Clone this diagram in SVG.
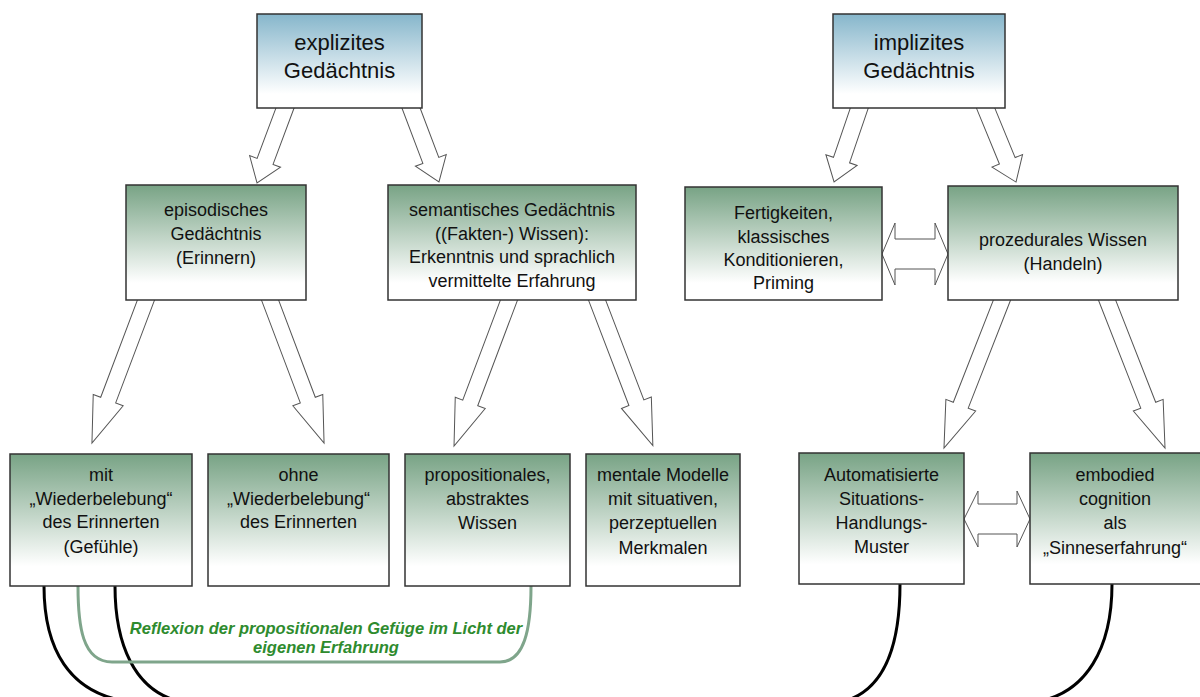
<svg xmlns="http://www.w3.org/2000/svg" width="1200" height="697" viewBox="0 0 1200 697">
  <defs>
    <linearGradient id="gBlue" x1="0" y1="0" x2="0" y2="1">
      <stop offset="0" stop-color="#86b6cb"/>
      <stop offset="0.85" stop-color="#ffffff"/>
      <stop offset="1" stop-color="#ffffff"/>
    </linearGradient>
    <linearGradient id="gGreen" x1="0" y1="0" x2="0" y2="1">
      <stop offset="0" stop-color="#78a385"/>
      <stop offset="0.85" stop-color="#ffffff"/>
      <stop offset="1" stop-color="#ffffff"/>
    </linearGradient>
    <style>
      .box { stroke: #333333; stroke-width: 1.5; }
      .top { fill: url(#gBlue); }
      .grn { fill: url(#gGreen); }
      .lbl { font-family: "Liberation Sans", Arial, sans-serif; font-size: 18px; fill: #111111; text-anchor: middle; }
      .big { font-size: 22px; }
      .blk { fill: #ffffff; stroke: #555555; stroke-width: 1; stroke-linejoin: miter; }
      .link { fill: none; stroke: #000000; stroke-width: 3; }
      .refl { fill: none; stroke: #7fa58b; stroke-width: 3; }
      .note { font-family: "Liberation Sans", Arial, sans-serif; font-size: 16.5px; font-style: italic; font-weight: bold; fill: #2e8b2e; text-anchor: middle; }
    </style>
  </defs>

  <rect width="1200" height="697" fill="#ffffff"/>

  <!-- connectors: block arrows, double arrows and curved links -->
  <g id="connectors">
    <!-- short arrows from the top boxes -->
    <polygon class="blk" transform="translate(285,108) rotate(110.47)" points="-8,-8.5 57,-8.5 57,-16.5 80,0 57,16.5 57,8.5 -8,8.5"/>
    <polygon class="blk" transform="translate(411,108) rotate(69.27)" points="-8,-8.5 56,-8.5 56,-16.5 79,0 56,16.5 56,8.5 -8,8.5"/>
    <polygon class="blk" transform="translate(859,109) rotate(108.9)" points="-8,-8.5 54,-8.5 54,-16.5 77,0 54,16.5 54,8.5 -8,8.5"/>
    <polygon class="blk" transform="translate(986,109) rotate(67.66)" points="-8,-8.5 56,-8.5 56,-16.5 79,0 56,16.5 56,8.5 -8,8.5"/>
    <!-- long arrows from the middle row -->
    <polygon class="blk" transform="translate(146,300) rotate(110.69)" points="-8,-8 107,-8 107,-16 153,0 107,16 107,8 -8,8"/>
    <polygon class="blk" transform="translate(270,300) rotate(69.31)" points="-8,-8 107,-8 107,-16 153,0 107,16 107,8 -8,8"/>
    <polygon class="blk" transform="translate(509,300) rotate(110.64)" points="-8,-8 110,-8 110,-16 156,0 110,16 110,8 -8,8"/>
    <polygon class="blk" transform="translate(597,300) rotate(69.02)" points="-8,-8 110,-8 110,-16 156,0 110,16 110,8 -8,8"/>
    <polygon class="blk" transform="translate(1002,300) rotate(111.4)" points="-8,-8 113,-8 113,-16 159,0 113,16 113,8 -8,8"/>
    <polygon class="blk" transform="translate(1107,300) rotate(68.6)" points="-8,-8 113,-8 113,-16 159,0 113,16 113,8 -8,8"/>
    <!-- double arrows -->
    <polygon class="blk" points="882,254 895,223 895,239 935,239 935,223 948,254 935,285 935,269 895,269 895,285"/>
    <polygon class="blk" points="964,519 978,491 978,504 1017,504 1017,491 1030,519 1017,547 1017,534 978,534 978,547"/>
    <!-- curved links along the bottom edge -->
    <path class="link" d="M 44 586 C 44 650 70 692 125 701 L 1040 701 C 1085 692 1112 650 1112 584"/>
    <path class="link" d="M 115 586 C 115 645 135 690 178 701 L 845 701 C 882 690 900 650 900 584"/>
    <!-- reflection loop -->
    <path class="refl" d="M 78 586 C 78 625 82 662 112 662 L 500 662 C 524 662 531 630 531 586"/>
  </g>

  <g id="n-explizit">
    <rect class="box top" x="257" y="14" width="165" height="94"/>
    <text class="lbl big" x="339.5" y="50">explizites</text>
    <text class="lbl big" x="339.5" y="78">Gedächtnis</text>
  </g>

  <g id="n-implizit">
    <rect class="box top" x="833" y="14" width="172" height="94"/>
    <text class="lbl big" x="919" y="50">implizites</text>
    <text class="lbl big" x="919" y="78">Gedächtnis</text>
  </g>

  <g id="n-episodisch">
    <rect class="box grn" x="126" y="185" width="180" height="115"/>
    <text class="lbl" x="216" y="216">episodisches</text>
    <text class="lbl" x="216" y="240">Gedächtnis</text>
    <text class="lbl" x="216" y="264">(Erinnern)</text>
  </g>

  <g id="n-semantisch">
    <rect class="box grn" x="388" y="185" width="248" height="115"/>
    <text class="lbl" x="512" y="216">semantisches Gedächtnis</text>
    <text class="lbl" x="512" y="240">((Fakten-) Wissen):</text>
    <text class="lbl" x="512" y="263">Erkenntnis und sprachlich</text>
    <text class="lbl" x="512" y="287">vermittelte Erfahrung</text>
  </g>

  <g id="n-fertigkeiten">
    <rect class="box grn" x="685" y="187" width="197" height="113"/>
    <text class="lbl" x="783.5" y="219">Fertigkeiten,</text>
    <text class="lbl" x="783.5" y="243">klassisches</text>
    <text class="lbl" x="783.5" y="266">Konditionieren,</text>
    <text class="lbl" x="783.5" y="289">Priming</text>
  </g>

  <g id="n-prozedural">
    <rect class="box grn" x="948" y="186" width="230" height="114"/>
    <text class="lbl" x="1063" y="246">prozedurales Wissen</text>
    <text class="lbl" x="1063" y="270">(Handeln)</text>
  </g>

  <g id="n-mit">
    <rect class="box grn" x="10" y="454" width="182" height="132"/>
    <text class="lbl" x="101" y="481">mit</text>
    <text class="lbl" x="101" y="505">„Wiederbelebung“</text>
    <text class="lbl" x="101" y="528">des Erinnerten</text>
    <text class="lbl" x="101" y="553">(Gefühle)</text>
  </g>

  <g id="n-ohne">
    <rect class="box grn" x="208" y="454" width="181" height="132"/>
    <text class="lbl" x="298.5" y="481">ohne</text>
    <text class="lbl" x="298.5" y="505">„Wiederbelebung“</text>
    <text class="lbl" x="298.5" y="528">des Erinnerten</text>
  </g>

  <g id="n-propositional">
    <rect class="box grn" x="405" y="454" width="165" height="132"/>
    <text class="lbl" x="487.5" y="481">propositionales,</text>
    <text class="lbl" x="487.5" y="505">abstraktes</text>
    <text class="lbl" x="487.5" y="529">Wissen</text>
  </g>

  <g id="n-mentale">
    <rect class="box grn" x="586" y="454" width="154" height="132"/>
    <text class="lbl" x="663" y="481">mentale Modelle</text>
    <text class="lbl" x="663" y="505">mit situativen,</text>
    <text class="lbl" x="663" y="529">perzeptuellen</text>
    <text class="lbl" x="663" y="554">Merkmalen</text>
  </g>

  <g id="n-automatisiert">
    <rect class="box grn" x="799" y="453" width="165" height="131"/>
    <text class="lbl" x="881.5" y="481">Automatisierte</text>
    <text class="lbl" x="881.5" y="505">Situations-</text>
    <text class="lbl" x="881.5" y="529">Handlungs-</text>
    <text class="lbl" x="881.5" y="553">Muster</text>
  </g>

  <g id="n-embodied">
    <rect class="box grn" x="1030" y="453" width="172" height="131"/>
    <text class="lbl" x="1115" y="481">embodied</text>
    <text class="lbl" x="1115" y="505">cognition</text>
    <text class="lbl" x="1115" y="529">als</text>
    <text class="lbl" x="1115" y="554">„Sinneserfahrung“</text>
  </g>

  <g id="reflection-label">
    <text class="note" x="326" y="634">Reflexion der propositionalen Gefüge im Licht der</text>
    <text class="note" x="326" y="653">eigenen Erfahrung</text>
  </g>
</svg>
